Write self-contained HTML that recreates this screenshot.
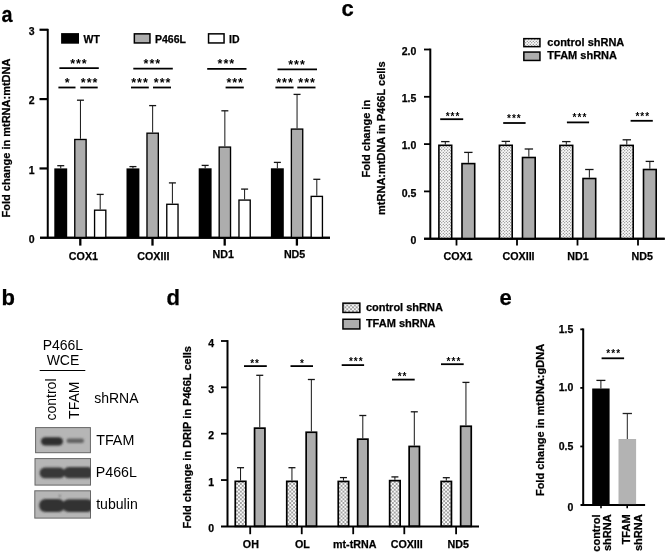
<!DOCTYPE html>
<html><head><meta charset="utf-8"><style>
html,body{margin:0;padding:0;background:#fff;width:669px;height:554px;overflow:hidden}
svg{display:block;filter:blur(0.45px)}
text{font-family:"Liberation Sans", sans-serif}
text[font-weight="bold"]{stroke:#000;stroke-width:0.25px}
</style></head><body>
<svg width="669" height="554" viewBox="0 0 669 554">
<defs>
<pattern id="dotsD" width="3.8" height="3.8" patternUnits="userSpaceOnUse" x="0.5" y="0.5">
<rect width="3.8" height="3.8" fill="#fafafa"/>
<circle cx="0.95" cy="0.95" r="0.65" fill="#000"/>
<circle cx="2.85" cy="2.85" r="0.65" fill="#000"/>
</pattern>
<pattern id="dotsC" width="3" height="3" patternUnits="userSpaceOnUse">
<rect width="3" height="3" fill="#fafafa"/>
<circle cx="0.75" cy="0.75" r="0.55" fill="#555"/>
<circle cx="2.25" cy="2.25" r="0.55" fill="#555"/>
</pattern>
<filter id="blur1" x="-10%" y="-10%" width="120%" height="120%"><feGaussianBlur stdDeviation="0.4"/></filter>
<filter id="blur2" x="-30%" y="-50%" width="160%" height="200%"><feGaussianBlur stdDeviation="0.9"/></filter>
</defs>
<clipPath id="blotclip"><rect x="35" y="427" width="55.4" height="26"/><rect x="34.5" y="458" width="56" height="27.5"/><rect x="34.3" y="490" width="56.2" height="28.5"/></clipPath>
<rect width="669" height="554" fill="#fff"/>
<text transform="translate(1.4,21.7) scale(0.9,1.03)" font-size="22" font-weight="bold" fill="#000">a</text>
<line x1="47.75" y1="28.85" x2="47.75" y2="237.80" stroke="#000" stroke-width="2"/>
<line x1="40.00" y1="237.80" x2="330.00" y2="237.80" stroke="#000" stroke-width="2"/>
<line x1="39.50" y1="168.45" x2="47.75" y2="168.45" stroke="#000" stroke-width="2.2"/>
<line x1="39.50" y1="99.10" x2="47.75" y2="99.10" stroke="#000" stroke-width="2.2"/>
<line x1="39.50" y1="29.75" x2="47.75" y2="29.75" stroke="#000" stroke-width="2.2"/>
<text x="34.70" y="243.10" font-size="10.5" font-weight="bold" text-anchor="end" fill="#000">0</text>
<text x="34.70" y="173.75" font-size="10.5" font-weight="bold" text-anchor="end" fill="#000">1</text>
<text x="34.70" y="104.40" font-size="10.5" font-weight="bold" text-anchor="end" fill="#000">2</text>
<text x="34.70" y="35.05" font-size="10.5" font-weight="bold" text-anchor="end" fill="#000">3</text>
<text transform="translate(10.20,138.00) rotate(-90)" font-size="11" font-weight="bold" text-anchor="middle" fill="#000">Fold change in mtRNA:mtDNA</text>
<rect x="61.10" y="33.10" width="17.90" height="10.60" fill="#000"/>
<text x="83.50" y="42.80" font-size="10.5" font-weight="bold" text-anchor="start" fill="#000">WT</text>
<rect x="134.35" y="33.85" width="15.60" height="9.10" fill="#adadad" stroke="#000" stroke-width="1.5"/>
<text x="155.00" y="42.80" font-size="10.5" font-weight="bold" text-anchor="start" fill="#000">P466L</text>
<rect x="208.55" y="33.85" width="15.50" height="9.10" fill="#fff" stroke="#000" stroke-width="1.5"/>
<text x="229.00" y="42.80" font-size="10.5" font-weight="bold" text-anchor="start" fill="#000">ID</text>
<line x1="80.30" y1="237.80" x2="80.30" y2="245.60" stroke="#000" stroke-width="2.3"/>
<line x1="60.75" y1="168.40" x2="60.75" y2="165.70" stroke="#151515" stroke-width="1.0"/>
<line x1="57.25" y1="165.70" x2="64.25" y2="165.70" stroke="#151515" stroke-width="1.3"/>
<rect x="54.30" y="168.40" width="12.90" height="69.40" fill="#000"/>
<line x1="80.45" y1="138.80" x2="80.45" y2="100.20" stroke="#151515" stroke-width="1.0"/>
<line x1="76.95" y1="100.20" x2="83.95" y2="100.20" stroke="#151515" stroke-width="1.3"/>
<rect x="74.77" y="139.48" width="11.35" height="98.45" fill="#adadad" stroke="#000" stroke-width="1.35"/>
<line x1="100.20" y1="209.50" x2="100.20" y2="194.40" stroke="#151515" stroke-width="1.0"/>
<line x1="96.70" y1="194.40" x2="103.70" y2="194.40" stroke="#151515" stroke-width="1.3"/>
<rect x="94.57" y="210.18" width="11.25" height="27.75" fill="#fff" stroke="#000" stroke-width="1.35"/>
<text x="83.40" y="260.00" font-size="10.7" font-weight="bold" text-anchor="middle" fill="#000">COX1</text>
<line x1="152.50" y1="237.80" x2="152.50" y2="245.60" stroke="#000" stroke-width="2.3"/>
<line x1="132.95" y1="168.40" x2="132.95" y2="166.60" stroke="#151515" stroke-width="1.0"/>
<line x1="129.45" y1="166.60" x2="136.45" y2="166.60" stroke="#151515" stroke-width="1.3"/>
<rect x="126.50" y="168.40" width="12.90" height="69.40" fill="#000"/>
<line x1="152.65" y1="132.50" x2="152.65" y2="105.60" stroke="#151515" stroke-width="1.0"/>
<line x1="149.15" y1="105.60" x2="156.15" y2="105.60" stroke="#151515" stroke-width="1.3"/>
<rect x="146.98" y="133.18" width="11.35" height="104.75" fill="#adadad" stroke="#000" stroke-width="1.35"/>
<line x1="172.40" y1="203.60" x2="172.40" y2="182.90" stroke="#151515" stroke-width="1.0"/>
<line x1="168.90" y1="182.90" x2="175.90" y2="182.90" stroke="#151515" stroke-width="1.3"/>
<rect x="166.78" y="204.28" width="11.25" height="33.65" fill="#fff" stroke="#000" stroke-width="1.35"/>
<text x="153.35" y="260.00" font-size="10.7" font-weight="bold" text-anchor="middle" fill="#000">COXIII</text>
<line x1="224.70" y1="237.80" x2="224.70" y2="245.60" stroke="#000" stroke-width="2.3"/>
<line x1="205.15" y1="168.30" x2="205.15" y2="165.40" stroke="#151515" stroke-width="1.0"/>
<line x1="201.65" y1="165.40" x2="208.65" y2="165.40" stroke="#151515" stroke-width="1.3"/>
<rect x="198.70" y="168.30" width="12.90" height="69.50" fill="#000"/>
<line x1="224.85" y1="146.40" x2="224.85" y2="110.80" stroke="#151515" stroke-width="1.0"/>
<line x1="221.35" y1="110.80" x2="228.35" y2="110.80" stroke="#151515" stroke-width="1.3"/>
<rect x="219.18" y="147.08" width="11.35" height="90.85" fill="#adadad" stroke="#000" stroke-width="1.35"/>
<line x1="244.60" y1="199.40" x2="244.60" y2="189.10" stroke="#151515" stroke-width="1.0"/>
<line x1="241.10" y1="189.10" x2="248.10" y2="189.10" stroke="#151515" stroke-width="1.3"/>
<rect x="238.97" y="200.08" width="11.25" height="37.85" fill="#fff" stroke="#000" stroke-width="1.35"/>
<text x="223.25" y="257.90" font-size="10.7" font-weight="bold" text-anchor="middle" fill="#000">ND1</text>
<line x1="296.90" y1="237.80" x2="296.90" y2="245.60" stroke="#000" stroke-width="2.3"/>
<line x1="277.35" y1="168.30" x2="277.35" y2="162.40" stroke="#151515" stroke-width="1.0"/>
<line x1="273.85" y1="162.40" x2="280.85" y2="162.40" stroke="#151515" stroke-width="1.3"/>
<rect x="270.90" y="168.30" width="12.90" height="69.50" fill="#000"/>
<line x1="297.05" y1="128.40" x2="297.05" y2="94.40" stroke="#151515" stroke-width="1.0"/>
<line x1="293.55" y1="94.40" x2="300.55" y2="94.40" stroke="#151515" stroke-width="1.3"/>
<rect x="291.38" y="129.08" width="11.35" height="108.85" fill="#adadad" stroke="#000" stroke-width="1.35"/>
<line x1="316.80" y1="195.70" x2="316.80" y2="179.30" stroke="#151515" stroke-width="1.0"/>
<line x1="313.30" y1="179.30" x2="320.30" y2="179.30" stroke="#151515" stroke-width="1.3"/>
<rect x="311.18" y="196.38" width="11.25" height="41.55" fill="#fff" stroke="#000" stroke-width="1.35"/>
<text x="294.60" y="257.90" font-size="10.7" font-weight="bold" text-anchor="middle" fill="#000">ND5</text>
<line x1="40.00" y1="237.80" x2="330.00" y2="237.80" stroke="#000" stroke-width="2"/>
<line x1="59.40" y1="68.05" x2="98.80" y2="68.05" stroke="#000" stroke-width="1.8"/>
<text x="78.95" y="67.60" font-size="12.5" font-weight="bold" text-anchor="middle" letter-spacing="1.0" fill="#000" style="stroke:none">***</text>
<line x1="58.40" y1="87.50" x2="75.50" y2="87.50" stroke="#000" stroke-width="1.8"/>
<text x="67.75" y="87.20" font-size="12.5" font-weight="bold" text-anchor="middle" letter-spacing="1.0" fill="#000" style="stroke:none">*</text>
<line x1="80.30" y1="87.50" x2="97.70" y2="87.50" stroke="#000" stroke-width="1.8"/>
<text x="89.65" y="87.20" font-size="12.5" font-weight="bold" text-anchor="middle" letter-spacing="1.0" fill="#000" style="stroke:none">***</text>
<line x1="133.30" y1="68.55" x2="172.80" y2="68.55" stroke="#000" stroke-width="1.8"/>
<text x="152.40" y="68.10" font-size="12.5" font-weight="bold" text-anchor="middle" letter-spacing="1.0" fill="#000" style="stroke:none">***</text>
<line x1="131.00" y1="87.50" x2="148.80" y2="87.50" stroke="#000" stroke-width="1.8"/>
<text x="140.00" y="87.20" font-size="12.5" font-weight="bold" text-anchor="middle" letter-spacing="1.0" fill="#000" style="stroke:none">***</text>
<line x1="153.00" y1="87.50" x2="171.00" y2="87.50" stroke="#000" stroke-width="1.8"/>
<text x="162.65" y="87.20" font-size="12.5" font-weight="bold" text-anchor="middle" letter-spacing="1.0" fill="#000" style="stroke:none">***</text>
<line x1="207.20" y1="68.90" x2="246.50" y2="68.90" stroke="#000" stroke-width="1.8"/>
<text x="226.40" y="68.45" font-size="12.5" font-weight="bold" text-anchor="middle" letter-spacing="1.0" fill="#000" style="stroke:none">***</text>
<line x1="225.60" y1="87.50" x2="243.80" y2="87.50" stroke="#000" stroke-width="1.8"/>
<text x="235.20" y="87.20" font-size="12.5" font-weight="bold" text-anchor="middle" letter-spacing="1.0" fill="#000" style="stroke:none">***</text>
<line x1="277.50" y1="69.35" x2="317.00" y2="69.35" stroke="#000" stroke-width="1.8"/>
<text x="297.00" y="68.90" font-size="12.5" font-weight="bold" text-anchor="middle" letter-spacing="1.0" fill="#000" style="stroke:none">***</text>
<line x1="275.40" y1="87.50" x2="293.60" y2="87.50" stroke="#000" stroke-width="1.8"/>
<text x="285.00" y="87.20" font-size="12.5" font-weight="bold" text-anchor="middle" letter-spacing="1.0" fill="#000" style="stroke:none">***</text>
<line x1="297.30" y1="87.50" x2="315.50" y2="87.50" stroke="#000" stroke-width="1.8"/>
<text x="307.15" y="87.20" font-size="12.5" font-weight="bold" text-anchor="middle" letter-spacing="1.0" fill="#000" style="stroke:none">***</text>
<text x="1.40" y="304.50" font-size="22" font-weight="bold" text-anchor="start" fill="#000">b</text>
<text x="62.90" y="350.00" font-size="14" font-weight="normal" text-anchor="middle" fill="#000">P466L</text>
<text x="63.00" y="364.90" font-size="14" font-weight="normal" text-anchor="middle" fill="#000">WCE</text>
<line x1="39.70" y1="370.50" x2="85.30" y2="370.50" stroke="#000" stroke-width="1.0"/>
<text transform="translate(55.90,420.50) rotate(-90)" font-size="14" font-weight="normal" text-anchor="start" fill="#000">control</text>
<text transform="translate(79.40,418.90) rotate(-90)" font-size="14" font-weight="normal" text-anchor="start" fill="#000">TFAM</text>
<text x="94.20" y="403.30" font-size="14" font-weight="normal" text-anchor="start" fill="#000">shRNA</text>
<rect x="35.60" y="427.60" width="54.80" height="25.10" fill="#b6b6b6" stroke="#666" stroke-width="1"/>
<rect x="35.00" y="458.60" width="55.50" height="26.50" fill="#b6b6b6" stroke="#666" stroke-width="1"/>
<rect x="34.80" y="490.80" width="55.70" height="27.30" fill="#b6b6b6" stroke="#666" stroke-width="1"/>
<g clip-path="url(#blotclip)"><g filter="url(#blur2)">
<rect x="41" y="437.2" width="22" height="8.4" rx="4.2" fill="#2e2e2e"/>
<rect x="66.5" y="438.5" width="17.5" height="4.4" rx="2.2" fill="#626262"/>
<rect x="39.6" y="467.6" width="25.5" height="10.6" rx="5.3" fill="#383838"/>
<rect x="63.5" y="467.0" width="30" height="11.2" rx="5.3" fill="#383838"/>
<rect x="39.2" y="498.9" width="25.5" height="13.2" rx="6.2" fill="#303030"/>
<rect x="62.5" y="499.2" width="31" height="12.8" rx="6.2" fill="#303030"/>
<circle cx="59.8" cy="495.8" r="0.9" fill="#555"/>
</g></g>
<text x="96.20" y="445.20" font-size="14.3" font-weight="normal" text-anchor="start" fill="#000">TFAM</text>
<text x="95.80" y="476.80" font-size="14.2" font-weight="normal" text-anchor="start" fill="#000">P466L</text>
<text x="96.20" y="509.00" font-size="14.1" font-weight="normal" text-anchor="start" fill="#000">tubulin</text>
<text x="341.50" y="16.10" font-size="22" font-weight="bold" text-anchor="start" fill="#000">c</text>
<line x1="430.30" y1="48.60" x2="430.30" y2="238.70" stroke="#000" stroke-width="2"/>
<line x1="424.00" y1="238.70" x2="664.70" y2="238.70" stroke="#000" stroke-width="2"/>
<line x1="424.00" y1="191.40" x2="430.30" y2="191.40" stroke="#000" stroke-width="1.8"/>
<text x="416.30" y="196.70" font-size="10.5" font-weight="bold" text-anchor="end" fill="#000">0.5</text>
<line x1="424.00" y1="144.10" x2="430.30" y2="144.10" stroke="#000" stroke-width="1.8"/>
<text x="416.30" y="149.40" font-size="10.5" font-weight="bold" text-anchor="end" fill="#000">1.0</text>
<line x1="424.00" y1="96.80" x2="430.30" y2="96.80" stroke="#000" stroke-width="1.8"/>
<text x="416.30" y="102.10" font-size="10.5" font-weight="bold" text-anchor="end" fill="#000">1.5</text>
<line x1="424.00" y1="49.50" x2="430.30" y2="49.50" stroke="#000" stroke-width="1.8"/>
<text x="416.30" y="54.80" font-size="10.5" font-weight="bold" text-anchor="end" fill="#000">2.0</text>
<text x="416.30" y="244.00" font-size="10.5" font-weight="bold" text-anchor="end" fill="#000">0</text>
<text transform="translate(370.00,138.70) rotate(-90)" font-size="11" font-weight="bold" text-anchor="middle" fill="#000">Fold change in</text>
<text transform="translate(384.50,138.20) rotate(-90)" font-size="11" font-weight="bold" text-anchor="middle" fill="#000">mtRNA:mtDNA in P466L cells</text>
<rect x="523.85" y="38.65" width="16.10" height="8.00" fill="url(#dotsC)" stroke="#000" stroke-width="1.5"/>
<text x="547.30" y="45.60" font-size="11" font-weight="bold" text-anchor="start" fill="#000">control shRNA</text>
<rect x="523.85" y="52.05" width="16.10" height="8.40" fill="#adadad" stroke="#000" stroke-width="1.5"/>
<text x="547.30" y="59.00" font-size="11" font-weight="bold" text-anchor="start" fill="#000">TFAM shRNA</text>
<line x1="456.50" y1="238.70" x2="456.50" y2="245.50" stroke="#000" stroke-width="1.8"/>
<line x1="445.30" y1="144.50" x2="445.30" y2="141.60" stroke="#151515" stroke-width="1.0"/>
<line x1="441.10" y1="141.60" x2="449.50" y2="141.60" stroke="#151515" stroke-width="1.3"/>
<rect x="438.90" y="145.30" width="12.80" height="93.40" fill="url(#dotsC)" stroke="#000" stroke-width="1.6"/>
<line x1="468.35" y1="162.80" x2="468.35" y2="152.40" stroke="#151515" stroke-width="1.0"/>
<line x1="464.15" y1="152.40" x2="472.55" y2="152.40" stroke="#151515" stroke-width="1.3"/>
<rect x="462.00" y="163.60" width="12.70" height="75.10" fill="#adadad" stroke="#000" stroke-width="1.6"/>
<line x1="440.20" y1="119.20" x2="463.20" y2="119.20" stroke="#000" stroke-width="1.8"/>
<text x="453.00" y="119.70" font-size="10" font-weight="bold" text-anchor="middle" letter-spacing="1.0" fill="#000" style="stroke:none">***</text>
<text x="458.00" y="259.80" font-size="10.7" font-weight="bold" text-anchor="middle" fill="#000">COX1</text>
<line x1="517.00" y1="238.70" x2="517.00" y2="245.50" stroke="#000" stroke-width="1.8"/>
<line x1="505.80" y1="144.50" x2="505.80" y2="141.40" stroke="#151515" stroke-width="1.0"/>
<line x1="501.60" y1="141.40" x2="510.00" y2="141.40" stroke="#151515" stroke-width="1.3"/>
<rect x="499.40" y="145.30" width="12.80" height="93.40" fill="url(#dotsC)" stroke="#000" stroke-width="1.6"/>
<line x1="528.85" y1="156.70" x2="528.85" y2="149.00" stroke="#151515" stroke-width="1.0"/>
<line x1="524.65" y1="149.00" x2="533.05" y2="149.00" stroke="#151515" stroke-width="1.3"/>
<rect x="522.50" y="157.50" width="12.70" height="81.20" fill="#adadad" stroke="#000" stroke-width="1.6"/>
<line x1="503.20" y1="123.00" x2="525.60" y2="123.00" stroke="#000" stroke-width="1.8"/>
<text x="514.35" y="122.30" font-size="10" font-weight="bold" text-anchor="middle" letter-spacing="1.0" fill="#000" style="stroke:none">***</text>
<text x="518.55" y="259.80" font-size="10.7" font-weight="bold" text-anchor="middle" fill="#000">COXIII</text>
<line x1="577.50" y1="238.70" x2="577.50" y2="245.50" stroke="#000" stroke-width="1.8"/>
<line x1="566.30" y1="144.60" x2="566.30" y2="141.60" stroke="#151515" stroke-width="1.0"/>
<line x1="562.10" y1="141.60" x2="570.50" y2="141.60" stroke="#151515" stroke-width="1.3"/>
<rect x="559.90" y="145.40" width="12.80" height="93.30" fill="url(#dotsC)" stroke="#000" stroke-width="1.6"/>
<line x1="589.35" y1="177.70" x2="589.35" y2="169.50" stroke="#151515" stroke-width="1.0"/>
<line x1="585.15" y1="169.50" x2="593.55" y2="169.50" stroke="#151515" stroke-width="1.3"/>
<rect x="583.00" y="178.50" width="12.70" height="60.20" fill="#adadad" stroke="#000" stroke-width="1.6"/>
<line x1="566.90" y1="122.40" x2="589.10" y2="122.40" stroke="#000" stroke-width="1.8"/>
<text x="579.95" y="120.80" font-size="10" font-weight="bold" text-anchor="middle" letter-spacing="1.0" fill="#000" style="stroke:none">***</text>
<text x="578.05" y="259.80" font-size="10.7" font-weight="bold" text-anchor="middle" fill="#000">ND1</text>
<line x1="638.00" y1="238.70" x2="638.00" y2="245.50" stroke="#000" stroke-width="1.8"/>
<line x1="626.80" y1="144.60" x2="626.80" y2="139.80" stroke="#151515" stroke-width="1.0"/>
<line x1="622.60" y1="139.80" x2="631.00" y2="139.80" stroke="#151515" stroke-width="1.3"/>
<rect x="620.40" y="145.40" width="12.80" height="93.30" fill="url(#dotsC)" stroke="#000" stroke-width="1.6"/>
<line x1="649.85" y1="168.70" x2="649.85" y2="161.40" stroke="#151515" stroke-width="1.0"/>
<line x1="645.65" y1="161.40" x2="654.05" y2="161.40" stroke="#151515" stroke-width="1.3"/>
<rect x="643.50" y="169.50" width="12.70" height="69.20" fill="#adadad" stroke="#000" stroke-width="1.6"/>
<line x1="630.60" y1="120.80" x2="652.80" y2="120.80" stroke="#000" stroke-width="1.8"/>
<text x="642.80" y="120.10" font-size="10" font-weight="bold" text-anchor="middle" letter-spacing="1.0" fill="#000" style="stroke:none">***</text>
<text x="642.20" y="259.80" font-size="10.7" font-weight="bold" text-anchor="middle" fill="#000">ND5</text>
<line x1="424.00" y1="238.70" x2="664.70" y2="238.70" stroke="#000" stroke-width="2"/>
<text x="166.40" y="304.50" font-size="22" font-weight="bold" text-anchor="start" fill="#000">d</text>
<line x1="227.50" y1="340.10" x2="227.50" y2="526.40" stroke="#000" stroke-width="2"/>
<line x1="221.00" y1="480.05" x2="227.50" y2="480.05" stroke="#000" stroke-width="1.8"/>
<line x1="221.00" y1="433.70" x2="227.50" y2="433.70" stroke="#000" stroke-width="1.8"/>
<line x1="221.00" y1="387.35" x2="227.50" y2="387.35" stroke="#000" stroke-width="1.8"/>
<line x1="221.00" y1="341.00" x2="227.50" y2="341.00" stroke="#000" stroke-width="1.8"/>
<text x="214.00" y="531.90" font-size="10.5" font-weight="bold" text-anchor="end" fill="#000">0</text>
<text x="214.00" y="485.55" font-size="10.5" font-weight="bold" text-anchor="end" fill="#000">1</text>
<text x="214.00" y="439.20" font-size="10.5" font-weight="bold" text-anchor="end" fill="#000">2</text>
<text x="214.00" y="392.85" font-size="10.5" font-weight="bold" text-anchor="end" fill="#000">3</text>
<text x="214.00" y="346.50" font-size="10.5" font-weight="bold" text-anchor="end" fill="#000">4</text>
<text transform="translate(191.00,437.30) rotate(-90)" font-size="11" font-weight="bold" text-anchor="middle" fill="#000">Fold change in DRIP in P466L cells</text>
<rect x="342.95" y="303.15" width="16.90" height="9.30" fill="url(#dotsD)" stroke="#000" stroke-width="1.5"/>
<text x="365.90" y="310.80" font-size="11" font-weight="bold" text-anchor="start" fill="#000">control shRNA</text>
<rect x="342.95" y="319.25" width="16.90" height="9.70" fill="#adadad" stroke="#000" stroke-width="1.5"/>
<text x="365.90" y="326.60" font-size="11" font-weight="bold" text-anchor="start" fill="#000">TFAM shRNA</text>
<line x1="250.20" y1="526.40" x2="250.20" y2="534.20" stroke="#000" stroke-width="1.8"/>
<line x1="240.55" y1="480.50" x2="240.55" y2="467.70" stroke="#151515" stroke-width="1.0"/>
<line x1="237.05" y1="467.70" x2="244.05" y2="467.70" stroke="#151515" stroke-width="1.3"/>
<rect x="235.25" y="481.35" width="10.60" height="45.00" fill="url(#dotsD)" stroke="#000" stroke-width="1.7"/>
<line x1="259.75" y1="427.30" x2="259.75" y2="375.30" stroke="#151515" stroke-width="1.0"/>
<line x1="256.25" y1="375.30" x2="263.25" y2="375.30" stroke="#151515" stroke-width="1.3"/>
<rect x="254.55" y="428.15" width="10.40" height="98.20" fill="#adadad" stroke="#000" stroke-width="1.7"/>
<line x1="244.00" y1="366.10" x2="266.80" y2="366.10" stroke="#000" stroke-width="1.8"/>
<text x="255.05" y="366.90" font-size="10" font-weight="bold" text-anchor="middle" letter-spacing="1.0" fill="#000" style="stroke:none">**</text>
<text x="250.85" y="547.90" font-size="10.7" font-weight="bold" text-anchor="middle" fill="#000">OH</text>
<line x1="301.75" y1="526.40" x2="301.75" y2="534.20" stroke="#000" stroke-width="1.8"/>
<line x1="291.95" y1="480.50" x2="291.95" y2="467.70" stroke="#151515" stroke-width="1.0"/>
<line x1="288.45" y1="467.70" x2="295.45" y2="467.70" stroke="#151515" stroke-width="1.3"/>
<rect x="286.75" y="481.35" width="10.40" height="45.00" fill="url(#dotsD)" stroke="#000" stroke-width="1.7"/>
<line x1="311.35" y1="431.40" x2="311.35" y2="379.50" stroke="#151515" stroke-width="1.0"/>
<line x1="307.85" y1="379.50" x2="314.85" y2="379.50" stroke="#151515" stroke-width="1.3"/>
<rect x="306.15" y="432.25" width="10.40" height="94.10" fill="#adadad" stroke="#000" stroke-width="1.7"/>
<line x1="290.50" y1="366.10" x2="313.00" y2="366.10" stroke="#000" stroke-width="1.8"/>
<text x="302.35" y="366.90" font-size="10" font-weight="bold" text-anchor="middle" letter-spacing="1.0" fill="#000" style="stroke:none">*</text>
<text x="302.40" y="547.90" font-size="10.7" font-weight="bold" text-anchor="middle" fill="#000">OL</text>
<line x1="353.20" y1="526.40" x2="353.20" y2="534.20" stroke="#000" stroke-width="1.8"/>
<line x1="343.45" y1="480.60" x2="343.45" y2="477.60" stroke="#151515" stroke-width="1.0"/>
<line x1="339.95" y1="477.60" x2="346.95" y2="477.60" stroke="#151515" stroke-width="1.3"/>
<rect x="338.25" y="481.45" width="10.40" height="44.90" fill="url(#dotsD)" stroke="#000" stroke-width="1.7"/>
<line x1="362.80" y1="438.30" x2="362.80" y2="415.50" stroke="#151515" stroke-width="1.0"/>
<line x1="359.30" y1="415.50" x2="366.30" y2="415.50" stroke="#151515" stroke-width="1.3"/>
<rect x="357.65" y="439.15" width="10.30" height="87.20" fill="#adadad" stroke="#000" stroke-width="1.7"/>
<line x1="341.70" y1="365.10" x2="364.10" y2="365.10" stroke="#000" stroke-width="1.8"/>
<text x="356.30" y="365.40" font-size="10" font-weight="bold" text-anchor="middle" letter-spacing="1.0" fill="#000" style="stroke:none">***</text>
<text x="354.70" y="547.90" font-size="10.7" font-weight="bold" text-anchor="middle" fill="#000">mt-tRNA</text>
<line x1="404.30" y1="526.40" x2="404.30" y2="534.20" stroke="#000" stroke-width="1.8"/>
<line x1="394.90" y1="479.80" x2="394.90" y2="476.90" stroke="#151515" stroke-width="1.0"/>
<line x1="391.40" y1="476.90" x2="398.40" y2="476.90" stroke="#151515" stroke-width="1.3"/>
<rect x="389.65" y="480.65" width="10.50" height="45.70" fill="url(#dotsD)" stroke="#000" stroke-width="1.7"/>
<line x1="414.30" y1="445.60" x2="414.30" y2="411.80" stroke="#151515" stroke-width="1.0"/>
<line x1="410.80" y1="411.80" x2="417.80" y2="411.80" stroke="#151515" stroke-width="1.3"/>
<rect x="409.15" y="446.45" width="10.30" height="79.90" fill="#adadad" stroke="#000" stroke-width="1.7"/>
<line x1="392.00" y1="379.60" x2="414.70" y2="379.60" stroke="#000" stroke-width="1.8"/>
<text x="402.60" y="380.10" font-size="10" font-weight="bold" text-anchor="middle" letter-spacing="1.0" fill="#000" style="stroke:none">**</text>
<text x="406.75" y="547.90" font-size="10.7" font-weight="bold" text-anchor="middle" fill="#000">COXIII</text>
<line x1="456.10" y1="526.40" x2="456.10" y2="534.20" stroke="#000" stroke-width="1.8"/>
<line x1="446.30" y1="480.60" x2="446.30" y2="477.70" stroke="#151515" stroke-width="1.0"/>
<line x1="442.80" y1="477.70" x2="449.80" y2="477.70" stroke="#151515" stroke-width="1.3"/>
<rect x="441.15" y="481.45" width="10.30" height="44.90" fill="url(#dotsD)" stroke="#000" stroke-width="1.7"/>
<line x1="465.95" y1="425.40" x2="465.95" y2="382.40" stroke="#151515" stroke-width="1.0"/>
<line x1="462.45" y1="382.40" x2="469.45" y2="382.40" stroke="#151515" stroke-width="1.3"/>
<rect x="460.65" y="426.25" width="10.60" height="100.10" fill="#adadad" stroke="#000" stroke-width="1.7"/>
<line x1="441.00" y1="364.20" x2="463.70" y2="364.20" stroke="#000" stroke-width="1.8"/>
<text x="453.95" y="364.70" font-size="10" font-weight="bold" text-anchor="middle" letter-spacing="1.0" fill="#000" style="stroke:none">***</text>
<text x="458.20" y="547.90" font-size="10.7" font-weight="bold" text-anchor="middle" fill="#000">ND5</text>
<line x1="221.00" y1="526.40" x2="479.00" y2="526.40" stroke="#000" stroke-width="2"/>
<text x="499.40" y="305.20" font-size="22" font-weight="bold" text-anchor="start" fill="#000">e</text>
<line x1="583.20" y1="328.45" x2="583.20" y2="505.00" stroke="#000" stroke-width="2"/>
<text x="573.40" y="510.60" font-size="10.5" font-weight="bold" text-anchor="end" fill="#000">0</text>
<line x1="580.30" y1="446.45" x2="583.20" y2="446.45" stroke="#000" stroke-width="1.8"/>
<text x="573.40" y="449.75" font-size="10.5" font-weight="bold" text-anchor="end" fill="#000">0.5</text>
<line x1="580.30" y1="387.90" x2="583.20" y2="387.90" stroke="#000" stroke-width="1.8"/>
<text x="573.40" y="391.20" font-size="10.5" font-weight="bold" text-anchor="end" fill="#000">1.0</text>
<line x1="580.30" y1="329.35" x2="583.20" y2="329.35" stroke="#000" stroke-width="1.8"/>
<text x="573.40" y="332.65" font-size="10.5" font-weight="bold" text-anchor="end" fill="#000">1.5</text>
<line x1="580.50" y1="505.00" x2="645.10" y2="505.00" stroke="#000" stroke-width="2"/>
<text transform="translate(543.90,420.00) rotate(-90)" font-size="11" font-weight="bold" text-anchor="middle" fill="#000">Fold change in mtDNA:gDNA</text>
<line x1="600.90" y1="388.50" x2="600.90" y2="380.40" stroke="#151515" stroke-width="1.0"/>
<line x1="596.40" y1="380.40" x2="605.40" y2="380.40" stroke="#151515" stroke-width="1.3"/>
<rect x="592.20" y="388.50" width="17.40" height="116.50" fill="#000"/>
<line x1="627.30" y1="439.00" x2="627.30" y2="413.50" stroke="#222" stroke-width="1.0"/>
<line x1="622.65" y1="413.50" x2="631.95" y2="413.50" stroke="#222" stroke-width="1.3"/>
<rect x="618.50" y="439.00" width="17.60" height="65.10" fill="#b3b3b3"/>
<line x1="601.00" y1="505.00" x2="601.00" y2="508.30" stroke="#000" stroke-width="1.6"/>
<line x1="627.20" y1="505.00" x2="627.20" y2="508.30" stroke="#000" stroke-width="1.6"/>
<line x1="601.60" y1="358.30" x2="624.10" y2="358.30" stroke="#000" stroke-width="1.8"/>
<text x="613.70" y="357.40" font-size="10" font-weight="bold" text-anchor="middle" letter-spacing="1.0" fill="#000" style="stroke:none">***</text>
<text transform="translate(599.80,514.40) rotate(-90)" font-size="11" font-weight="bold" text-anchor="end" fill="#000">control</text>
<text transform="translate(610.70,514.40) rotate(-90)" font-size="11" font-weight="bold" text-anchor="end" fill="#000">shRNA</text>
<text transform="translate(630.30,514.40) rotate(-90)" font-size="11" font-weight="bold" text-anchor="end" fill="#000">TFAM</text>
<text transform="translate(642.30,514.40) rotate(-90)" font-size="11" font-weight="bold" text-anchor="end" fill="#000">shRNA</text>
</svg>
</body></html>
